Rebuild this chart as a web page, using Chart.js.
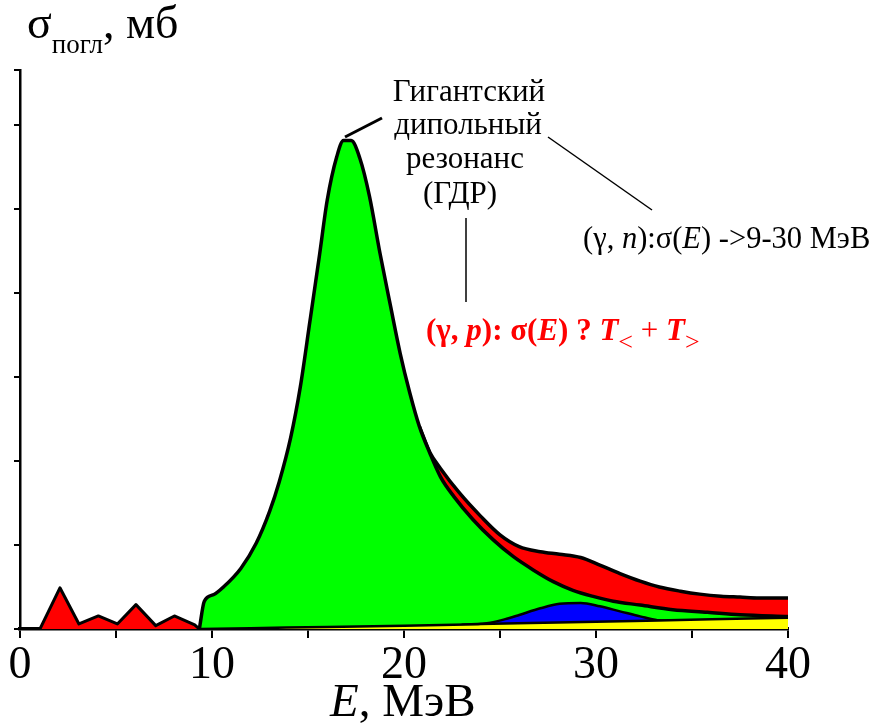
<!DOCTYPE html>
<html>
<head>
<meta charset="utf-8">
<script src="https://cdn.jsdelivr.net/npm/chart.js@4.4.0/dist/chart.umd.min.js"></script>
<style>
  html, body { margin: 0; padding: 0; background: #fff; }
  #wrap { width: 882px; height: 725px; }
</style>
</head>
<body>
<div id="wrap"><canvas id="chart" width="882" height="725"></canvas></div>
<script>
// low-energy red spikes
const lowE     = [1.04, 2.08, 3.07, 4.08, 5.07, 6.04, 7.07, 8.04, 9.1, 9.34];
const lowSigma = [0, 0.49, 0.06, 0.155, 0.06, 0.29, 0.04, 0.155, 0.05, 0];

// giant dipole resonance (green)
const gdrE = [9.34, 9.6, 10.1, 10.6, 11.5, 12.3, 13.0, 13.5, 14.1, 14.6, 15.1, 15.6, 16.0, 16.5, 16.85,
  17.25, 17.7, 18.2, 18.75, 19.3, 19.8, 20.3, 20.8, 21.35, 21.9, 22.6, 23.6, 24.65, 25.7, 26.75,
  27.8, 28.8, 29.9, 30.9, 32.3, 34.0, 35.8, 37.5, 40];
const gdrSigma = [0, 0.33, 0.41, 0.50, 0.72, 1.02, 1.40, 1.75, 2.28, 2.88, 3.66, 4.45, 5.1, 5.62, 5.81,
  5.81, 5.6, 5.15, 4.47, 3.84, 3.28, 2.81, 2.41, 2.09, 1.81, 1.575, 1.30, 1.06, 0.86, 0.70,
  0.56, 0.46, 0.385, 0.33, 0.285, 0.23, 0.20, 0.17, 0.15];

// total absorption above the GDR (red band on top)
const totalE = [20.8, 21.35, 21.9, 22.9, 24.0, 25.0, 26.0, 27.1, 28.1, 29.2, 30.2, 31.25, 32.3,
  33.3, 34.4, 35.4, 36.5, 37.5, 38.5, 40];
const totalSigma = [2.41, 2.1, 1.91, 1.615, 1.34, 1.12, 0.98, 0.92, 0.89, 0.85, 0.76, 0.66, 0.57,
  0.50, 0.45, 0.415, 0.39, 0.38, 0.37, 0.37];

// blue bump around 29 MeV
const blueE = [23.0, 24.5, 25.4, 26.0, 27.1, 28.1, 29.2, 30.2, 31.25, 32.3, 33.2, 34.0];
const blueSigma = [0.05, 0.075, 0.125, 0.167, 0.246, 0.30, 0.31, 0.27, 0.21, 0.15, 0.105, 0.098];

// yellow strip along the bottom
const yellowE = [9.4, 12, 16, 20, 24, 28, 32, 36, 40];
const yellowSigma = [0, 0.01, 0.024, 0.04, 0.058, 0.077, 0.096, 0.115, 0.135];

const xTicks = [0, 10, 20, 30, 40];

function pts(xs, ys) {
  return xs.map((x, i) => ({ x: x, y: ys[i] }));
}

const serif = "'Liberation Serif', 'Times New Roman', serif";
Chart.defaults.font.family = serif;

function drawRuns(ctx, x, y, runs) {
  ctx.textBaseline = 'alphabetic';
  ctx.textAlign = 'left';
  runs.forEach(r => {
    ctx.font = r.font;
    ctx.fillStyle = r.color || '#000';
    ctx.fillText(r.text, x, y + (r.dy || 0));
    x += ctx.measureText(r.text).width;
  });
}

const annotations = {
  id: 'annotations',
  afterDraw(chart) {
    const ctx = chart.ctx;
    ctx.save();

    // axis titles
    drawRuns(ctx, 27, 38, [
      { text: 'σ', font: '46px ' + serif },
      { text: 'погл', font: '27px ' + serif, dy: 15 },
      { text: ', мб', font: '46px ' + serif }
    ]);
    drawRuns(ctx, 330, 716, [
      { text: 'E', font: 'italic 47px ' + serif },
      { text: ', МэВ', font: '47px ' + serif }
    ]);

    // GDR label
    ctx.fillStyle = '#000';
    ctx.font = '31px ' + serif;
    ctx.textAlign = 'center';
    ctx.fillText('Гигантский', 469, 101);
    ctx.fillText('дипольный', 468, 134);
    ctx.fillText('резонанс', 465, 168);
    ctx.fillText('(ГДР)', 460, 203);

    // pointer lines
    ctx.strokeStyle = '#000';
    ctx.lineWidth = 3;
    ctx.beginPath(); ctx.moveTo(345, 137); ctx.lineTo(382, 118); ctx.stroke();
    ctx.lineWidth = 1.5;
    ctx.beginPath(); ctx.moveTo(548, 137); ctx.lineTo(652, 210); ctx.stroke();
    ctx.beginPath(); ctx.moveTo(466, 218); ctx.lineTo(466, 302); ctx.stroke();

    // (γ, n) label
    drawRuns(ctx, 583, 248, [
      { text: '(γ, ', font: '30.5px ' + serif },
      { text: 'n', font: 'italic 30.5px ' + serif },
      { text: '):σ(', font: '30.5px ' + serif },
      { text: 'E', font: 'italic 30.5px ' + serif },
      { text: ') ->9-30 МэВ', font: '30.5px ' + serif }
    ]);

    // (γ, p) label
    const red = '#ff0000';
    drawRuns(ctx, 426, 340, [
      { text: '(γ, ', font: 'bold 31px ' + serif, color: red },
      { text: 'p', font: 'italic bold 31px ' + serif, color: red },
      { text: '): σ(', font: 'bold 31px ' + serif, color: red },
      { text: 'E', font: 'italic bold 31px ' + serif, color: red },
      { text: ') ? ', font: 'bold 31px ' + serif, color: red },
      { text: 'T', font: 'italic bold 31px ' + serif, color: red },
      { text: '<', font: '26px ' + serif, color: red, dy: 10 },
      { text: ' + ', font: '31px ' + serif, color: red },
      { text: 'T', font: 'italic bold 31px ' + serif, color: red },
      { text: '>', font: '26px ' + serif, color: red, dy: 10 }
    ]);

    ctx.restore();
  }
};

const area = (label, data, color, width, smooth) => ({
  label: label,
  data: data,
  borderColor: '#000',
  borderWidth: width,
  backgroundColor: color,
  fill: 'origin',
  pointRadius: 0,
  tension: 0,
  borderJoinStyle: 'round',
  cubicInterpolationMode: smooth ? 'monotone' : 'default'
});

new Chart(document.getElementById('chart'), {
  type: 'line',
  data: {
    datasets: [
      area('yellow', pts(yellowE, yellowSigma), '#ffff00', 2.5, true),
      area('blue', pts(blueE, blueSigma), '#0000ff', 2.5, true),
      area('GDR', pts(gdrE, gdrSigma), '#00ff00', 3.5, true),
      area('total', pts(totalE, totalSigma), '#ff0000', 3.5, true),
      area('low', pts(lowE, lowSigma), '#ff0000', 3, false)
    ]
  },
  options: {
    responsive: false,
    animation: false,
    layout: { padding: { left: 0, right: 94, top: 70, bottom: 0 } },
    plugins: { legend: { display: false }, tooltip: { enabled: false } },
    scales: {
      x: {
        type: 'linear',
        min: 0,
        max: 40,
        afterFit: s => { s.height = 96; },
        afterBuildTicks: s => {
          s.ticks = [0, 5, 10, 15, 20, 25, 30, 35, 40].map(v => ({ value: v }));
        },
        ticks: {
          color: '#000',
          font: { size: 46 },
          padding: 0,
          maxRotation: 0,
          autoSkip: false,
          callback: v => (xTicks.includes(v) ? String(v) : '')
        },
        grid: { drawOnChartArea: false, drawTicks: true, tickLength: 9, color: '#000', lineWidth: 2 },
        border: { color: '#000', width: 3.5 }
      },
      y: {
        type: 'linear',
        min: 0,
        max: 6.65,
        afterFit: s => { s.width = 20; },
        ticks: { stepSize: 1, callback: () => '' },
        grid: { drawOnChartArea: false, drawTicks: true, tickLength: 6, color: '#000', lineWidth: 2 },
        border: { color: '#000', width: 2.5 }
      }
    }
  },
  plugins: [annotations]
});
</script>
</body>
</html>
